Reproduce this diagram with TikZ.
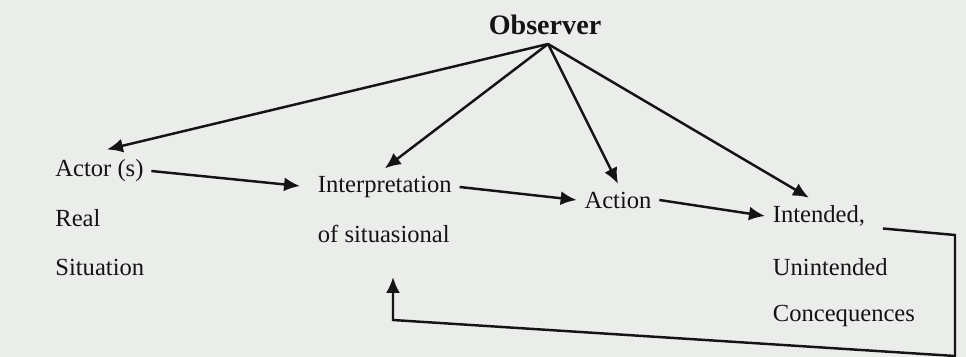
\documentclass[tikz,border=0pt]{standalone}
\usepackage{fontspec}
\setmainfont{Liberation Serif}
\usetikzlibrary{arrows.meta,calc}
\definecolor{paper}{RGB}{234,237,233}
\definecolor{ink}{RGB}{20,20,20}
\begin{document}
\begin{tikzpicture}[
  lbl/.style={inner sep=0.15cm,text=ink,font=\fontsize{14}{17}\selectfont},
  arr/.style={draw=ink,line width=1.4pt,-{Latex[length=3.2mm,width=2.8mm]}}
]
%frame of the photo
\fill[paper] (0,0) rectangle (19.32,-7.14);
\useasboundingbox (0,0) rectangle (19.32,-7.14);
%
\node[lbl,font=\fontsize{16}{19}\selectfont\bfseries] (obs) at (10.9,-0.5) {Observer};
\coordinate (obsfoot) at (10.96,-0.88);
%
\node[lbl,anchor=west] (actor) at (0.95,-3.42) {Actor (s)};
\node[lbl,anchor=west] (real) at (0.95,-4.36) {Real};
\node[lbl,anchor=west] (sit) at (0.95,-5.34) {Situation};
%
\node[lbl,anchor=west] (interp) at (6.2,-3.74) {Interpretation};
\node[lbl,anchor=west] (interpb) at (6.2,-4.68) {of situasional};
%
\node[lbl] (action) at (12.36,-4.0) {Action};
%
\node[lbl,anchor=west] (intended) at (15.3,-4.32) {Intended,};
\node[lbl,anchor=west] (unint) at (15.3,-5.34) {Unintended};
\node[lbl,anchor=west] (conseq) at (15.3,-6.32) {Concequences};
%observer
\draw[arr] (obsfoot) -- ([xshift=0.15cm,yshift=0.05cm]actor.north);
\draw[arr] (obsfoot) -- (interp.north);
\draw[arr] (obsfoot) -- (action.north);
\draw[arr] (obsfoot) -- ([xshift=-0.2cm]intended.north);
%chain
\draw[arr,shorten >=0.2cm] (actor.east) -- (interp.west);
\draw[arr] (interp.east) -- (action.west);
\draw[arr] (action.east) -- (intended.west);
%feedback
\coordinate (fbA) at (19.1,-4.7);
\coordinate (fbB) at (19.1,-7.12);
\coordinate (fbC) at (7.86,-6.4);
\draw[arr] ($(intended.east)+(0.2,-0.25)$) -- (fbA) -- (fbB) -- (fbC) -- (fbC |- 0,-5.54);
\end{tikzpicture}
\end{document}
